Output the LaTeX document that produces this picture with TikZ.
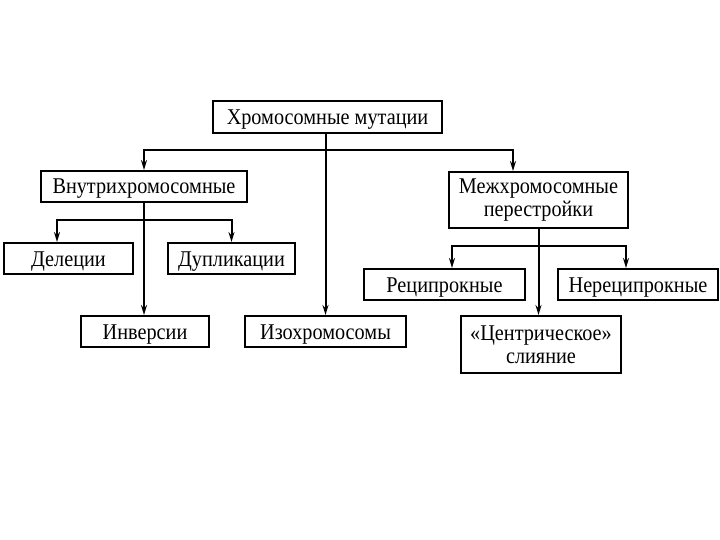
\documentclass[tikz,border=0pt]{standalone}
\usepackage{fontspec}
\setmainfont[FakeStretch=0.9]{Liberation Serif}
\usetikzlibrary{arrows.meta}
\begin{document}
\begin{tikzpicture}[x=1pt,y=-1pt,
  basebox/.style={draw, line width=2pt, inner sep=0pt, font=\fontsize{22.5}{22.5}\selectfont, align=center},
  box/.style={basebox, text height=15pt, text depth=0pt},
  tallbox/.style={basebox},
  conn/.style={line width=2pt},
  arr/.style={conn, -{Stealth[length=10pt,width=6pt]}}]
\useasboundingbox[fill=white] (0,0) rectangle (720,540);
\node[box, minimum width=229, minimum height=32] (root) at (327.5,117) {Хромосомные мутации};
\node[box, minimum width=206, minimum height=31] (intra) at (144,186.5) {Внутрихромосомные};
\node[tallbox, minimum width=179, minimum height=56] (inter) at (538.5,200) {Межхромосомные\\перестройки};
\node[box, minimum width=129, minimum height=31] (del) at (68.5,258.5) {Делеции};
\node[box, minimum width=127, minimum height=31] (dup) at (231.5,258.5) {Дупликации};
\node[box, minimum width=128, minimum height=31] (inv) at (145,331.5) {Инверсии};
\node[box, minimum width=161, minimum height=31] (iso) at (325.5,331.5) {Изохромосомы};
\node[box, minimum width=161, minimum height=31] (rec) at (444.5,284.5) {Реципрокные};
\node[box, minimum width=160, minimum height=31] (nrec) at (638,284.5) {Нереципрокные};
\node[tallbox, minimum width=160, minimum height=57] (cent) at (541,344.5) {«Центрическое»\\слияние};
\coordinate (h1) at (0,150);
\coordinate (h2) at (0,220);
\coordinate (h3) at (0,246);
% root
\draw[arr] (iso.north |- root.south) -- (iso.north);
\draw[arr] (iso.north |- h1) -| (intra.north);
\draw[arr] (iso.north |- h1) -| ([xshift=-25.5pt]inter.north);
% intra
\draw[arr] (intra.south) -- (intra.south |- inv.north);
\draw[arr] (intra.south |- h2) -| ([xshift=-11.5pt]del.north);
\draw[arr] (intra.south |- h2) -| (dup.north);
% inter
\draw[arr] (inter.south) -- (inter.south |- cent.north);
\draw[arr] (inter.south |- h3) -| ([xshift=7.5pt]rec.north);
\draw[arr] (inter.south |- h3) -| ([xshift=-12pt]nrec.north);
\end{tikzpicture}
\end{document}
